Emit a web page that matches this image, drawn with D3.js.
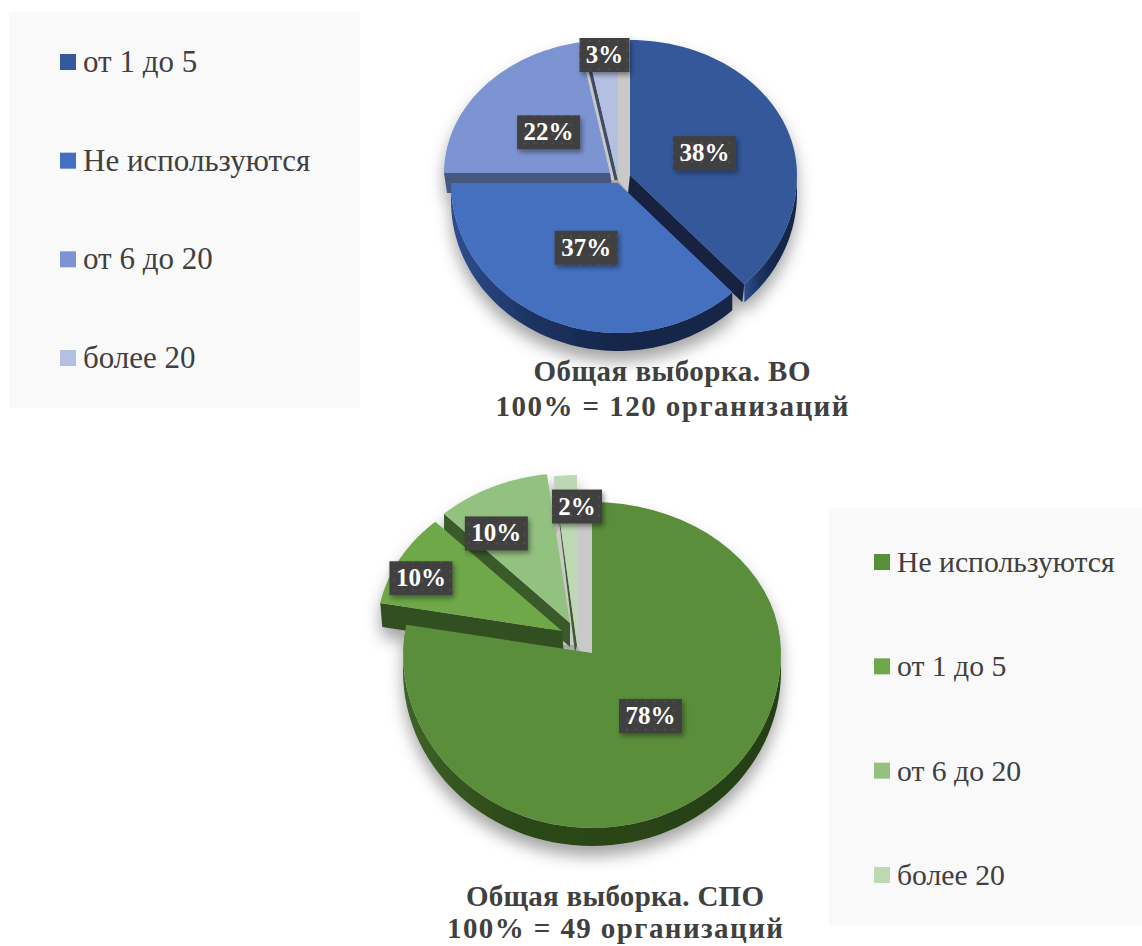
<!DOCTYPE html>
<html><head><meta charset="utf-8">
<script src="https://cdn.jsdelivr.net/npm/d3@7"></script>
<style>html,body{margin:0;padding:0;background:#fff}svg{display:block}</style></head>
<body><svg id="c" width="1142" height="946"></svg>
<script>
// ---- data ----
const categoriesVO = ["от 1 до 5","Не используются","от 6 до 20","более 20"];
const valuesVO = [38,37,22,3];
const colorsVO = ["#36599b","#4570bf","#7d94d2","#b4c0e2"];
const categoriesSPO = ["Не используются","от 1 до 5","от 6 до 20","более 20"];
const valuesSPO = [78,10,10,2];
const colorsSPO = ["#5a8e3b","#6ea84a","#93c17f","#bdd8b3"];
const titleVO = ["Общая выборка. ВО","100% = 120 организаций"];
const titleSPO = ["Общая выборка. СПО","100% = 49 организаций"];

// ---- layout ----
const pieVO = {
  centers:[[630,175],[618,183],[610,173],[618,180]],
  rx:[167,167,166,167], ryTop:[135,135,133,135], ryBot:[150,150,150,150],
  labelF:[[.48,.44],[.48,.47],[.48,.48],[.86,.93]],
  rimFill:"url(#rimB)", depth:18,
  order:[3,2,0,1], mainIdx:0, stripIdx:3,
  walls:{
    0:[{edge:1,shift:[-2,18],fill:"#14233f"}],
    2:[{edge:0,shift:[3,20],fill:"#46587f"}],
    3:[{edge:0,shift:[-6,0],rimShift:[-6,0],fill:"#c9c9c9"},{edge:0,shift:[-3.5,0],rimShift:[-3.5,0],fill:"#3f4c66"}]
  }
};
const pieSPO = {
  centers:[[592,653],[562,631],[570,623],[577,645]],
  rx:[189,185,184,185], ryTop:[151,150,150,170], ryBot:[175,175,175,175],
  labelF:[[.486,.467],[.87,.73],[.94,.66],[0,.816]],
  rimFill:"url(#rimG)", depth:18,
  order:[3,2,1,0], mainIdx:0, stripIdx:3,
  walls:{
    1:[{edge:0,shift:[2,24],fill:"#334f20"}],
    2:[{edge:0,shift:[0,24],fill:"#3a5a2c"}],
    3:[{edge:0,shift:[-13,0],rimShift:[0,0],fill:"#c9c9c9"},{edge:0,shift:[-2,8],rimShift:[0,0],fill:"#3f5a30"}]
  }
};

const svg = d3.select("#c");
const defs = svg.append("defs");
function grad(id,stops){
  const g=defs.append("linearGradient").attr("id",id).attr("x1",0).attr("x2",1).attr("y1",0).attr("y2",0);
  stops.forEach(s=>g.append("stop").attr("offset",s[0]).attr("stop-color",s[1]));
}
grad("rimB",[[0,"#2d4f8e"],[.3,"#1c3260"],[.6,"#16264a"],[1,"#16264a"]]);
grad("rimG",[[0,"#3f6329"],[.3,"#2c4819"],[1,"#263f16"]]);
const sh=defs.append("filter").attr("id","pieShadow").attr("x","-15%").attr("y","-15%").attr("width","130%").attr("height","130%");
sh.append("feDropShadow").attr("dx",0).attr("dy",10).attr("stdDeviation",8).attr("flood-color","#000").attr("flood-opacity",.36);
const ls=defs.append("filter").attr("id","lblShadow").attr("x","-20%").attr("y","-20%").attr("width","150%").attr("height","160%");
ls.append("feDropShadow").attr("dx",2).attr("dy",3).attr("stdDeviation",2.5).attr("flood-color","#000").attr("flood-opacity",.4);
const pat=defs.append("pattern").attr("id","dots").attr("width",9.3).attr("height",9.3).attr("patternUnits","userSpaceOnUse");
pat.append("rect").attr("width",9.3).attr("height",9.3).attr("fill","#3f3f3f");
pat.append("circle").attr("cx",4).attr("cy",4).attr("r",1).attr("fill","#565656");

const lineGen=d3.line();
const serif="'Liberation Serif',serif";

function drawPie(values,colors,L,title,titleX,titleY,titleW){
  const arcs=d3.pie().sort(null)(values);
  const g=svg.append("g").attr("filter","url(#pieShadow)");
  const pt=(i,a)=>{
    const ry=Math.cos(a)>=0?L.ryTop[i]:L.ryBot[i];
    return [L.centers[i][0]+L.rx[i]*Math.sin(a), L.centers[i][1]-ry*Math.cos(a)];
  };
  const samples=(a0,a1)=>d3.range(0,61).map(k=>a0+(a1-a0)*k/60);
  const si=L.stripIdx, mi=L.mainIdx;
  const top=pt(mi,0), mc=L.centers[mi], sc=L.centers[si];
  g.append("path").attr("fill","#c9c9c9")
    .attr("d",lineGen([sc,[sc[0],top[1]],top,[mc[0],mc[1]+L.depth]])+"Z");
  L.order.forEach(i=>{
    const d=arcs[i], c=L.centers[i];
    const r0=Math.max(d.startAngle,Math.PI/2), r1=Math.min(d.endAngle,3*Math.PI/2);
    if(r1>r0){
      const up=samples(r0,r1).map(a=>pt(i,a));
      const dn=up.map(p=>[p[0],p[1]+L.depth]).reverse();
      g.append("path").attr("fill",L.rimFill).attr("d",lineGen(up.concat(dn))+"Z");
    }
    (L.walls[i]||[]).forEach(w=>{
      const rim=pt(i,w.edge?d.endAngle:d.startAngle), rs=w.rimShift||w.shift;
      g.append("path").attr("fill",w.fill)
       .attr("d",lineGen([c,rim,[rim[0]+rs[0],rim[1]+rs[1]],[c[0]+w.shift[0],c[1]+w.shift[1]]])+"Z");
    });
    const outline=[c].concat(samples(d.startAngle,d.endAngle).map(a=>pt(i,a)));
    g.append("path").attr("class","slice").attr("fill",colors[i]).attr("d",lineGen(outline)+"Z");
  });
  arcs.forEach((d,i)=>{
    const mid=(d.startAngle+d.endAngle)/2, c=L.centers[i];
    const ry=Math.cos(mid)>=0?L.ryTop[i]:L.ryBot[i];
    const x=c[0]+L.labelF[i][0]*L.rx[i]*Math.sin(mid), y=c[1]-L.labelF[i][1]*ry*Math.cos(mid);
    const txt=d.data+"%", w=d.data<10?50:63, h=34;
    svg.append("rect").attr("x",x-w/2).attr("y",y-h/2).attr("width",w).attr("height",h)
      .attr("fill","url(#dots)").attr("filter","url(#lblShadow)");
    svg.append("text").attr("x",x).attr("y",y+8).attr("text-anchor","middle")
      .attr("fill","#fff").attr("font-family",serif).attr("font-weight","bold").attr("font-size",25).text(txt);
  });
  title.forEach((t,k)=>svg.append("text").attr("x",titleX).attr("y",titleY[k]).attr("text-anchor","middle")
    .attr("textLength",titleW[k]).attr("lengthAdjust","spacing")
    .attr("fill","#404040").attr("font-family",serif).attr("font-weight","bold").attr("font-size",29).text(t));
}

function drawLegend(cats,colors,box,rows,swX,fs){
  svg.append("rect").attr("x",box[0]).attr("y",box[1]).attr("width",box[2]).attr("height",box[3]).attr("fill","#f9f9f9");
  const y=d3.scalePoint().domain(cats).range(rows);
  cats.forEach((c,i)=>{
    svg.append("rect").attr("x",swX).attr("y",y(c)-8).attr("width",16).attr("height",16).attr("fill",colors[i]);
    svg.append("text").attr("x",swX+23).attr("y",y(c)+10).attr("fill","#404040")
      .attr("font-family",serif).attr("font-size",fs).text(c);
  });
}

drawLegend(categoriesVO,colorsVO,[9,12,351,396],[62,358],60,31);
drawLegend(categoriesSPO,colorsSPO,[829,508,313,418],[562,875],874,29.7);
drawPie(valuesVO,colorsVO,pieVO,titleVO,672,[381,416],[277,353]);
drawPie(valuesSPO,colorsSPO,pieSPO,titleSPO,615,[906,938],[298,336]);
</script></body></html>
